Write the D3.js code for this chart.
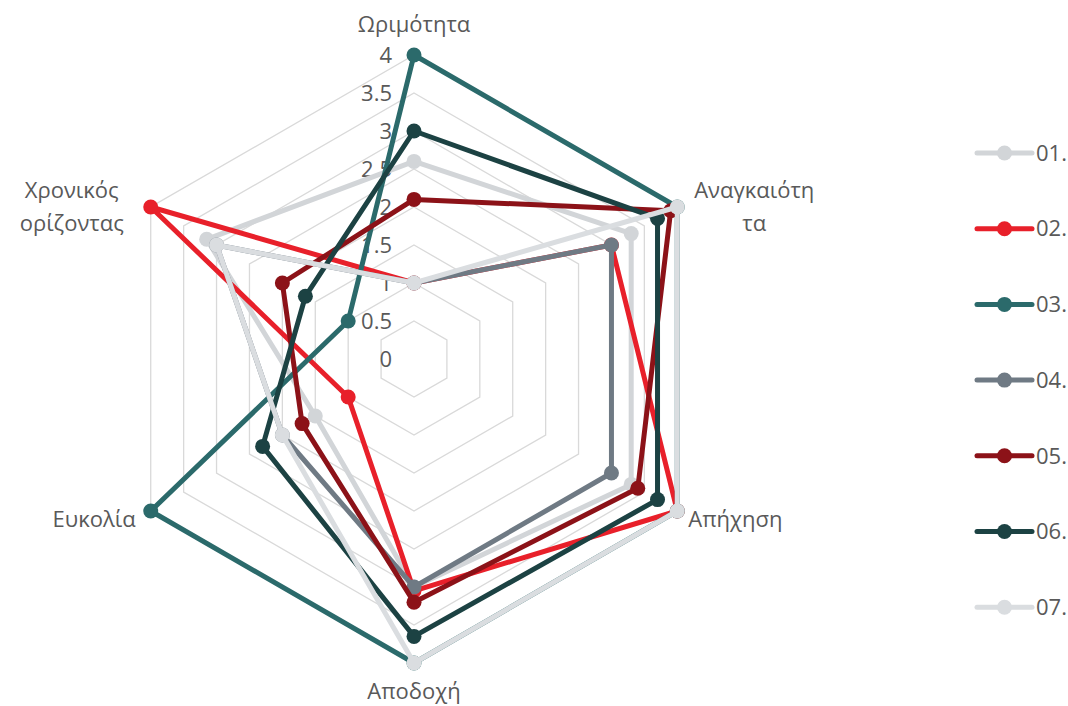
<!DOCTYPE html>
<html>
<head>
<meta charset="utf-8">
<script src="https://cdn.jsdelivr.net/npm/d3@7"></script>
<style>
  body { margin: 0; background: #fff; }
  svg text { font-family: "Open Sans", "Segoe UI", sans-serif; fill: #595959; }
</style>
</head>
<body>
<div id="chart"></div>
<script>
// axes, clockwise from the top (label lines as wrapped in the chart)
var categories = [
    ["Ωριμότητα"],
    ["Αναγκαιότη", "τα"],
    ["Απήχηση"],
    ["Αποδοχή"],
    ["Ευκολία"],
    ["Χρονικός", "ορίζοντας"]
];
var seriesNames = ["01.", "02.", "03.", "04.", "05.", "06.", "07."];
var seriesColors = ["#d2d5d8", "#e8202a", "#2b6a6b", "#6f7a84", "#8c1218", "#1c4243", "#dadde0"];

var s01 = [2.6, 3.3, 3.3, 3.0, 1.5, 3.15];
var s02 = [1.0, 3.0, 4.0, 3.05, 1.0, 4.0];
var s03 = [4.0, 4.0, 4.0, 4.0, 4.0, 1.0];
var s04 = [1.0, 3.0, 3.0, 3.0, 2.0, 3.0];
var s05 = [2.1, 3.9, 3.4, 3.2, 1.7, 2.0];
var s06 = [3.0, 3.7, 3.7, 3.65, 2.3, 1.65];
var s07 = [1.0, 4.0, 4.0, 4.0, 2.0, 3.0];
var seriesValues = [s01, s02, s03, s04, s05, s06, s07];

var ticks = [0, 0.5, 1, 1.5, 2, 2.5, 3, 3.5, 4];

var width = 1068, height = 706;
var cx = 414, cy = 359;
var fs = "22px";

var svg = d3.select("#chart").append("svg")
    .attr("width", width)
    .attr("height", height);

var r = d3.scaleLinear().domain([0, 4]).range([0, 304]);
var angle = d3.scaleLinear().domain([0, categories.length]).range([0, 2 * Math.PI]);

var radial = d3.lineRadial()
    .angle(function (d, i) { return angle(i); })
    .radius(function (d) { return r(d); })
    .curve(d3.curveLinearClosed);

var g = svg.append("g").attr("transform", "translate(" + cx + "," + cy + ")");

// hexagon grid
g.append("g").selectAll("path")
    .data(ticks.filter(function (t) { return t > 0; }))
    .enter().append("path")
    .attr("d", function (t) { return radial(categories.map(function () { return t; })); })
    .attr("fill", "none")
    .attr("stroke", "#d9d9d9")
    .attr("stroke-width", 1.3);

// value labels along the top axis
g.append("g").selectAll("text")
    .data(ticks)
    .enter().append("text")
    .attr("x", -22)
    .attr("y", function (t) { return -r(t); })
    .attr("dy", "0.35em")
    .attr("text-anchor", "end")
    .style("font-size", fs)
    .text(function (t) { return t; });

function pt(i, v) {
    var a = angle(i) - Math.PI / 2;
    return [r(v) * Math.cos(a), r(v) * Math.sin(a)];
}

// series, drawn 01 first so 07 ends on top
seriesValues.forEach(function (vals, s) {
    var sg = g.append("g");
    sg.append("path")
        .attr("d", radial(vals))
        .attr("fill", "none")
        .attr("stroke", seriesColors[s])
        .attr("stroke-width", 5)
        .attr("stroke-linejoin", "round");
    sg.selectAll("circle")
        .data(vals)
        .enter().append("circle")
        .attr("cx", function (d, i) { return pt(i, d)[0]; })
        .attr("cy", function (d, i) { return pt(i, d)[1]; })
        .attr("r", 7.5)
        .attr("fill", seriesColors[s]);
});

// axis labels
var lineH = 33;
categories.forEach(function (lines, i) {
    var p = pt(i, 4);
    var a = angle(i) - Math.PI / 2;
    var cs = Math.cos(a);
    var x = p[0], y = p[1], anchor = "middle";
    if (Math.abs(cs) < 0.01) {
        y += Math.sin(a) > 0 ? 28 : -31;
    } else if (lines.length > 1) {
        x += cs > 0 ? 77 : -79;
    } else {
        anchor = cs > 0 ? "start" : "end";
        x += cs > 0 ? 11 : -15;
        y += 8;
    }
    var t = g.append("text")
        .attr("text-anchor", anchor)
        .style("font-size", fs);
    lines.forEach(function (ln, k) {
        t.append("tspan")
            .attr("x", x)
            .attr("y", y + (k - (lines.length - 1) / 2) * lineH)
            .attr("dy", "0.35em")
            .text(ln);
    });
});

// legend
var legend = svg.append("g").attr("transform", "translate(977,153)");
seriesNames.forEach(function (name, s) {
    var lg = legend.append("g").attr("transform", "translate(0," + (s * 75.7) + ")");
    lg.append("line")
        .attr("x1", 0).attr("x2", 55)
        .attr("stroke", seriesColors[s])
        .attr("stroke-width", 5)
        .attr("stroke-linecap", "round");
    lg.append("circle")
        .attr("cx", 27.5)
        .attr("r", 7.5)
        .attr("fill", seriesColors[s]);
    lg.append("text")
        .attr("x", 59)
        .attr("dy", "0.35em")
        .style("font-size", fs)
        .text(name);
});
</script>
</body>
</html>
